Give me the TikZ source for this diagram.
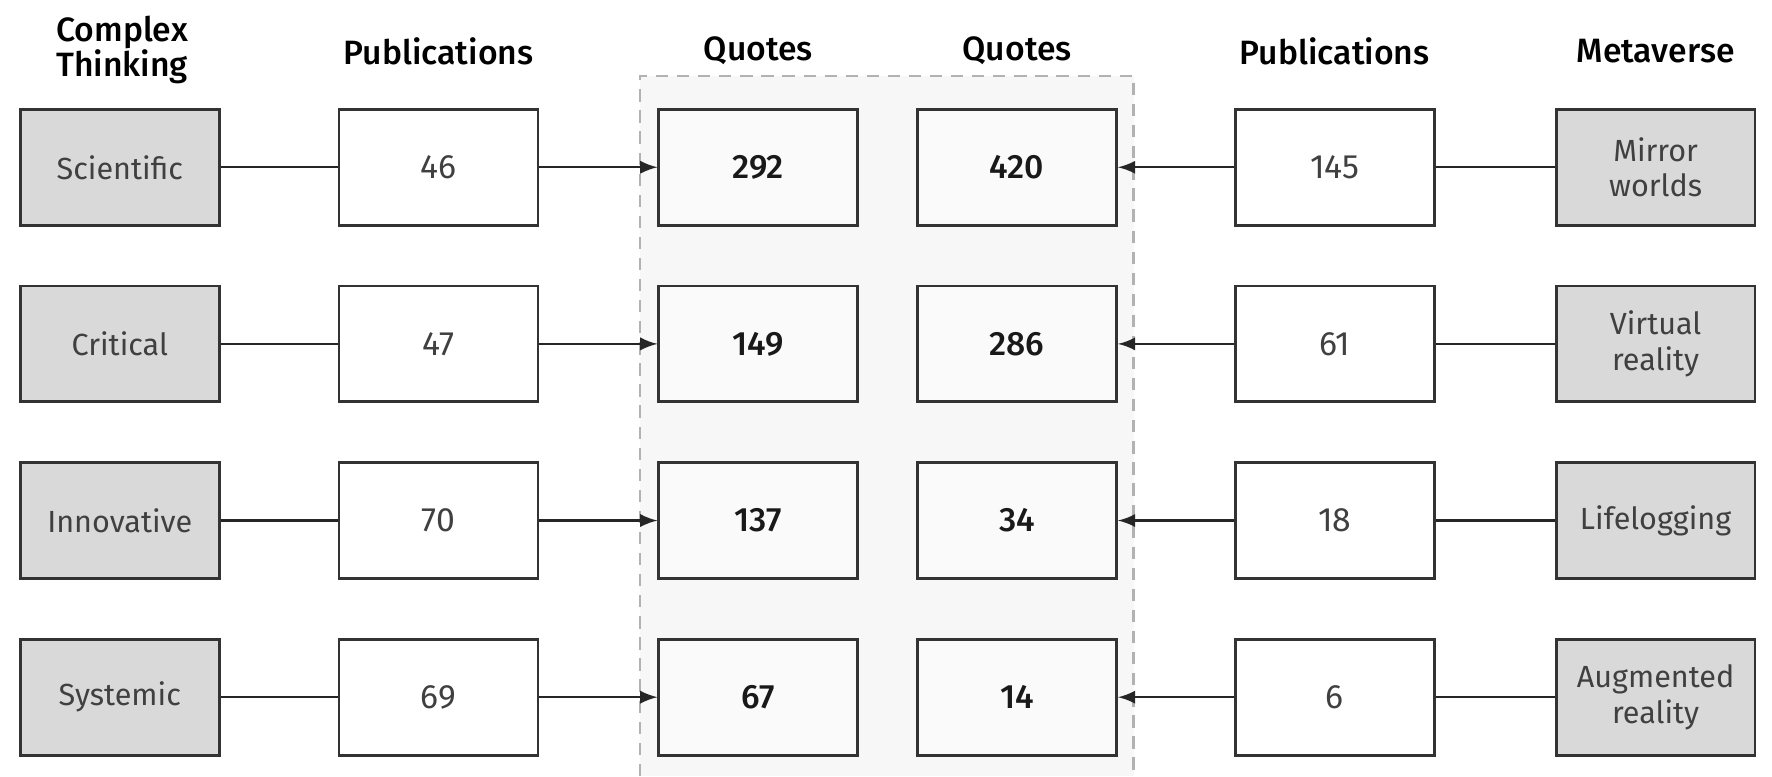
\documentclass[tikz,border=0pt]{standalone}
\usepackage{fontspec}
\setmainfont{Fira Sans}[BoldFont={Fira Sans Medium}]
\usetikzlibrary{arrows}
\usetikzlibrary{positioning}

\tikzset{
  cell/.style={draw=black!80, line width=0.8pt, minimum width=1.99cm, minimum height=1.16cm,
               align=center, inner sep=1pt, text=black!75,
               font=\fontsize{8.7}{10.2}\selectfont},
  graycell/.style={cell, fill=black!15},
  pubcell/.style={cell, fill=white, font=\fontsize{9.6}{11}\selectfont},
  quotecell/.style={cell, fill=black!2, text=black!90, font=\fontsize{9.6}{11}\selectfont\bfseries},
  head/.style={align=center, font=\fontsize{9.6}{10}\selectfont\bfseries},
  conn/.style={draw=black!85, line width=0.7pt}
}

\begin{document}
\begin{tikzpicture}[x=0.0113cm, y=-0.0113cm]

  \useasboundingbox (0,0) rectangle (1568,686.7);

  %quotes panel
  \fill[black!3] (566,67) rectangle (1003,686.7);
  \draw[gray!60, line width=0.6pt, dash pattern=on 3.5pt off 2.5pt]
       (566,686.7) -- (566,67) -- (1003,67) -- (1003,686.7);

  %headers
  \node[head] (hct) at (108,44) {Complex\\Thinking};
  \node[head] (hpl) at (388,45) {Publications};
  \node[head] (hql) at (671,45) {Quotes};
  \node[head] (hqr) at (900,45) {Quotes};
  \node[head] (hpr) at (1181,45) {Publications};
  \node[head] (hmv) at (1465,45) {Metaverse};

  %rows
  \def\d{156.3};
  \foreach \i/\ct/\pl/\ql/\qr/\pr/\mv in {
        1/Scientific/46/292/420/145/{Mirror\\worlds},
        2/Critical/47/149/286/61/{Virtual\\reality},
        3/Innovative/70/137/34/18/Lifelogging,
        4/Systemic/69/67/14/6/{Augmented\\reality}}{
     \node[graycell]  (ct\i) at (106,  148 + \i*\d - \d) {\ct};
     \node[pubcell]   (pl\i) at (388,  148 + \i*\d - \d) {\pl};
     \node[quotecell] (ql\i) at (671,  148 + \i*\d - \d) {\ql};
     \node[quotecell] (qr\i) at (900,  148 + \i*\d - \d) {\qr};
     \node[pubcell]   (pr\i) at (1181, 148 + \i*\d - \d) {\pr};
     \node[graycell]  (mv\i) at (1465, 148 + \i*\d - \d) {\mv};
  }

  %links
  \foreach \i in {1,...,4}{
     \draw[conn] (ct\i) -- (pl\i);
     \draw[conn,-latex] (pl\i) -- (ql\i);
     \draw[conn,-latex] (pr\i) -- (qr\i);
     \draw[conn] (mv\i) -- (pr\i);
  }

\end{tikzpicture}
\end{document}
